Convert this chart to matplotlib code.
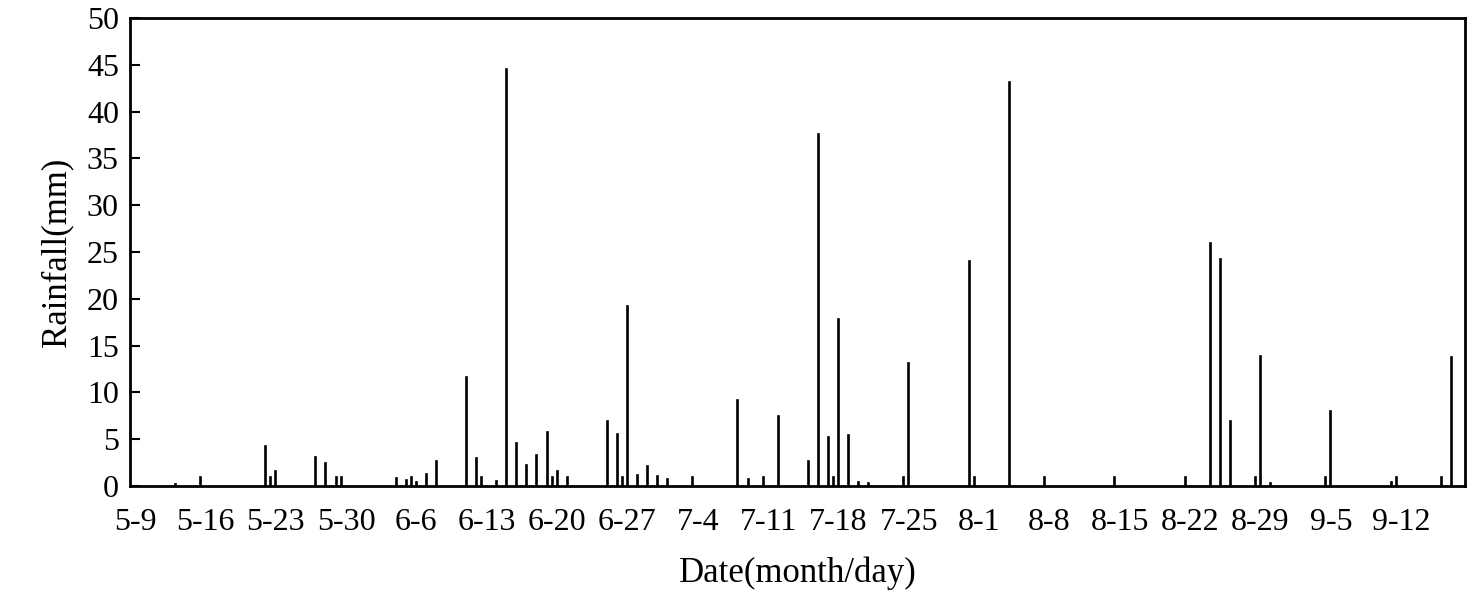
import matplotlib
matplotlib.use("Agg")
import matplotlib.pyplot as plt

plt.rcParams['font.family'] = ['Liberation Serif']

# positions are half-day slots counted from 5-9
slots = [8, 13, 26, 27, 28, 36, 38, 40, 41, 52, 54, 55, 56, 58, 60,
         66, 68, 69, 72, 74, 76, 78, 80, 82, 83, 84, 86,
         94, 96, 97, 98, 100, 102, 104, 106, 111,
         120, 122, 125, 128, 134, 136, 138, 139, 140, 142, 144, 146,
         153, 154, 166, 167, 174, 181, 195, 209,
         214, 216, 218, 223, 224, 226, 237, 238, 250, 251, 260, 262]
rain = [0.2, 1.0, 4.3, 1.0, 1.6, 3.15, 2.5, 1.0, 1.0, 0.9, 0.6, 1.0, 0.4, 1.3, 2.65,
        11.6, 3.0, 1.0, 0.5, 44.6, 4.6, 2.25, 3.3, 5.75, 1.0, 1.55, 1.0,
        6.9, 5.6, 1.0, 19.2, 1.2, 2.1, 1.1, 0.7, 1.0,
        9.2, 0.8, 1.0, 7.5, 2.7, 37.6, 5.2, 1.0, 17.8, 5.4, 0.4, 0.3,
        1.0, 13.1, 24.0, 1.0, 43.2, 1.0, 1.0, 1.0,
        26.0, 24.3, 6.9, 1.0, 13.9, 0.3, 1.0, 8.0, 0.4, 1.0, 1.0, 13.8]
tick_labels = ['5-9', '5-16', '5-23', '5-30', '6-6', '6-13', '6-20', '6-27', '7-4',
               '7-11', '7-18', '7-25', '8-1', '8-8', '8-15', '8-22', '8-29', '9-5', '9-12']

fig = plt.figure(figsize=(14.68, 6), dpi=100)
ax = fig.add_axes([130/1468, 1 - 486/600, 1335/1468, 468/600])
ax.bar(slots, rain, width=0.2, color='black', edgecolor='black', linewidth=1.2)
ax.set_xlim(-1, 264.7)
ax.set_ylim(0, 50)
ax.set_yticks(range(0, 51, 5))
ax.set_xticks([i*14 for i in range(len(tick_labels))])
ax.set_xticklabels(tick_labels)
ax.tick_params(axis='x', length=0, pad=16, labelsize=23)
ax.tick_params(axis='y', direction='in', length=7, width=1.5, labelsize=23, pad=8)
for s in ax.spines.values():
    s.set_linewidth(2)
ax.set_xlabel('Date(month/day)', fontsize=25, labelpad=14)
ax.set_ylabel('Rainfall(mm)', fontsize=25, labelpad=10)
fig.savefig('out.png', dpi=100)
